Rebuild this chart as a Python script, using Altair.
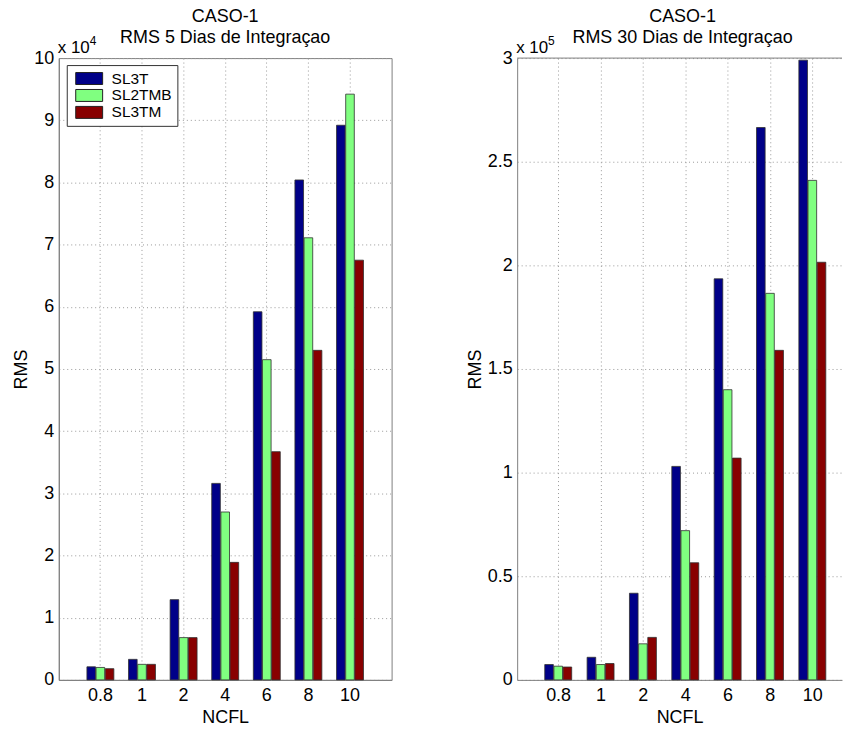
import altair as alt
import pandas as pd

# ---------------- data ----------------
ncfl = ["0.8", "1", "2", "4", "6", "8", "10"]
series = ["SL3T", "SL2TMB", "SL3TM"]
colors = ["#000088", "#80ff80", "#880000"]

# RMS, 5 days of integration (x 10^4)
rms5_sl3t = [0.21, 0.33, 1.29, 3.16, 5.92, 8.04, 8.92]
rms5_sl2tmb = [0.20, 0.25, 0.68, 2.70, 5.15, 7.11, 9.42]
rms5_sl3tm = [0.18, 0.25, 0.68, 1.89, 3.67, 5.30, 6.75]

# RMS, 30 days of integration (x 10^5)
rms30_sl3t = [0.074, 0.109, 0.418, 1.03, 1.935, 2.665, 2.99]
rms30_sl2tmb = [0.066, 0.074, 0.174, 0.72, 1.40, 1.865, 2.41]
rms30_sl3tm = [0.062, 0.079, 0.205, 0.565, 1.07, 1.59, 2.015]

titles = [["CASO-1", "RMS 5 Dias de Integraçao"], ["CASO-1", "RMS 30 Dias de Integraçao"]]
exponents = ["4", "5"]
y_ticks_5 = [0, 1, 2, 3, 4, 5, 6, 7, 8, 9, 10]
y_ticks_30 = [0, 0.5, 1, 1.5, 2, 2.5, 3]

FONT = "Liberation Sans"
GRAY = "#808080"

LEGEND_PATH = "M-1.6875,-0.75L1.6875,-0.75L1.6875,0.75L-1.6875,0.75Z"


def long_df(a, b, c):
    rows = []
    for name, vals in zip(series, [a, b, c]):
        for cat, v in zip(ncfl, vals):
            rows.append({"ncfl": cat, "serie": name, "rms": v})
    return pd.DataFrame(rows)


def panel(df, ymax, yticks, yfmt, title, exp, width, pad_outer, align, boxed, tdx):
    bars = alt.Chart(df).mark_bar(stroke="#303030", strokeWidth=0.8).encode(
        x=alt.X(
            "ncfl:N",
            sort=ncfl,
            scale=alt.Scale(paddingInner=0, paddingOuter=pad_outer, align=align),
            axis=alt.Axis(
                title="NCFL", labelAngle=0, grid=True, gridDash=[1, 3], gridColor="#999999",
                ticks=False, domainColor=GRAY, labelPadding=7, titlePadding=4,
            ),
        ),
        xOffset=alt.XOffset("serie:N", sort=series,
                            scale=alt.Scale(paddingInner=0.06, paddingOuter=0.8)),
        y=alt.Y(
            "rms:Q",
            scale=alt.Scale(domain=[0, ymax], nice=False, zero=True),
            axis=alt.Axis(
                title="RMS", values=yticks, format=yfmt, grid=True, gridDash=[1, 3],
                gridColor="#999999", ticks=False, domainColor=GRAY, labelPadding=5,
                titlePadding=3,
            ),
        ),
        color=alt.Color(
            "serie:N", sort=series,
            scale=alt.Scale(domain=series, range=colors),
            legend=alt.Legend(
                orient="none", legendX=8, legendY=7, title=None,
                fillColor="white", strokeColor="#333333", padding=5,
                symbolType=LEGEND_PATH, symbolSize=256, symbolStrokeColor="#202020",
                symbolStrokeWidth=1, symbolOpacity=1, symbolOffset=9,
                labelOffset=14, labelFontSize=15.5, labelFont=FONT, rowPadding=0,
            ),
        ),
    )
    one = pd.DataFrame({"base": ["x 10"], "exp": [exp]})
    txt_base = alt.Chart(one).mark_text(
        align="left", baseline="alphabetic", fontSize=17, font=FONT, color="black"
    ).encode(x=alt.value(-1), y=alt.value(-5), text="base:N")
    txt_exp = alt.Chart(one).mark_text(
        align="left", baseline="alphabetic", fontSize=12, font=FONT, color="black"
    ).encode(x=alt.value(31), y=alt.value(-13), text="exp:N")
    layers = [bars, txt_base, txt_exp]
    if not boxed:
        top = alt.Chart(one).mark_rule(color=GRAY, strokeWidth=1).encode(y=alt.value(0))
        layers.append(top)
    ch = alt.layer(*layers).properties(
        width=width, height=624,
        title=alt.Title(title, fontSize=18, fontWeight="normal", font=FONT,
                        lineHeight=21, offset=-11.5, anchor="middle", dx=tdx),
    )
    if not boxed:
        ch = ch.properties(view=alt.ViewBackground(stroke="transparent"))
    return ch


left = panel(long_df(rms5_sl3t, rms5_sl2tmb, rms5_sl3tm), 10, y_ticks_5, "d",
             titles[0], exponents[0], 334, 0.5, 0.5, True, 0)
right = panel(long_df(rms30_sl3t, rms30_sl2tmb, rms30_sl3tm), 3, y_ticks_30, ".1~f",
              titles[1], exponents[1], 326, 0.335, 0.714, False, 3)

chart = alt.hconcat(left, right, spacing=73).configure(
    padding={"left": 12, "top": 6, "right": 0, "bottom": 0},
    background="white",
).configure_view(
    stroke=GRAY, strokeWidth=1
).configure_axis(
    labelFont=FONT, titleFont=FONT, labelFontSize=18, titleFontSize=18,
    titleFontWeight="normal", labelColor="black", titleColor="black",
)

chart.save("out.html", embed_options={"renderer": "svg", "actions": False})
